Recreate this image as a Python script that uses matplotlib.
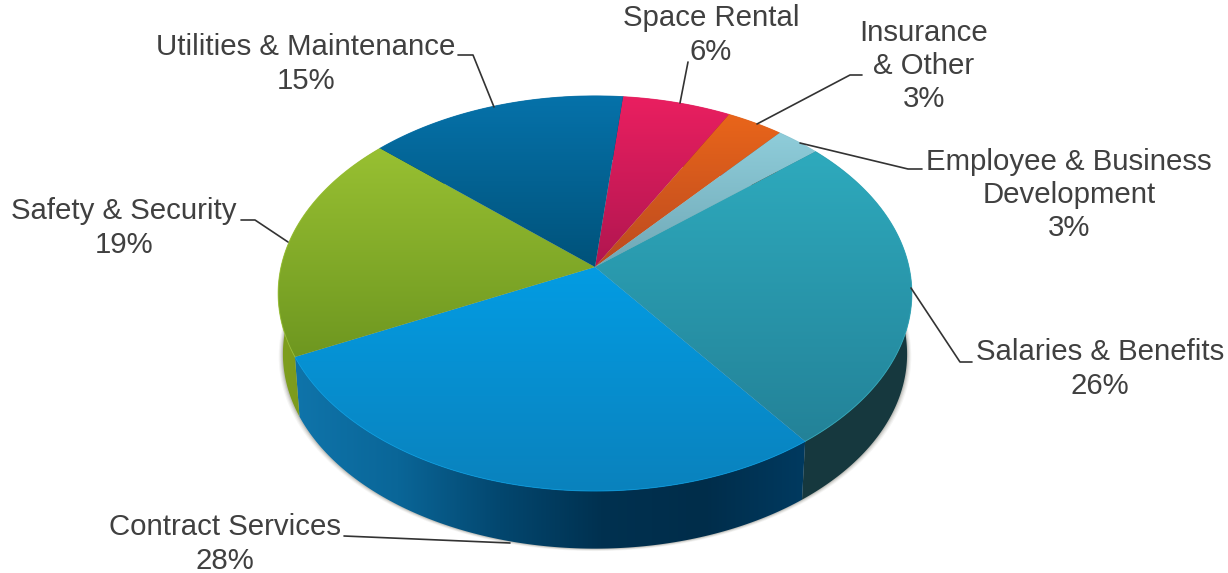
import numpy as np
import matplotlib
matplotlib.use("Agg")
import matplotlib.pyplot as plt
from matplotlib.patches import Polygon
from matplotlib.colors import LinearSegmentedColormap

plt.rcParams['font.family'] = ['Liberation Sans', 'DejaVu Sans']

# clockwise from the top boundary
categories = ["Space Rental", "Insurance\n& Other", "Employee & Business\nDevelopment",
              "Salaries & Benefits", "Contract Services", "Safety & Security",
              "Utilities & Maintenance"]
shares = [6.3, 3.3, 2.6, 26.0, 28.0, 18.8, 15.0]
pct_labels = ["6%", "3%", "3%", "26%", "28%", "19%", "15%"]

top_colors = [("#ea1f60", "#b01650"), ("#e9651a", "#bb4a20"), ("#8fcdda", "#6fa8b6"),
              ("#2eaabd", "#238298"), ("#039ce3", "#0a82bd"), ("#98c032", "#6e9720"),
              ("#0672aa", "#00527a")]
side_colors = [("#8a1040",), ("#8a3a10",), ("#4a7f8a",),
               ("#16393f", "#17383e"),
               ("#0f74aa", "#0a6698", "#03476f", "#003150", "#002d4a", "#003a60"),
               ("#7f9f1e", "#6d8a18"), ("#003f60",)]

label_pos = [(711, 35), (924, 66), (1069, 195), (1100, 369), (225, 544), (124, 228), (306, 64)]
leaders = [[(688, 62), (680, 103)],
           [(862, 75), (850, 75), (757, 124)],
           [(922, 169), (908, 169), (800, 143)],
           [(972, 362), (960, 362), (911, 288)],
           [(344, 536), (510, 543)],
           [(241, 220), (255, 220), (288, 242)],
           [(458, 55), (473, 55), (494, 107)]]

W, H = 1228, 573
CX, CY, A, B, Q = 595.0, 267.0, 314.0, 194.0, 0.134
START = 5.8
DEPTH, SCALE = 61.0, 0.985

fig = plt.figure(figsize=(W / 100, H / 100), dpi=100)
ax = fig.add_axes([0, 0, 1, 1])
ax.set_axis_off()


def rim(t):
    t = np.radians(t)
    u, v = np.sin(t), -np.cos(t)
    w = 1 - Q * v
    return CX + A * u / w, CY + B * v / w


def lower(t):
    x, y = rim(t)
    return CX + (x - CX) * SCALE, CY + (y - CY) * SCALE + DEPTH


def grad(poly, colors, vertical=True, zorder=2):
    colors = list(colors) if len(colors) > 1 else [colors[0], colors[0]]
    cmap = LinearSegmentedColormap.from_list("g", colors)
    xs, ys = poly[:, 0], poly[:, 1]
    g = np.linspace(0, 1, 256)
    img = g[:, None] if vertical else g[None, :]
    im = ax.imshow(img, cmap=cmap, vmin=0, vmax=1,
                   extent=(xs.min(), xs.max(), ys.max(), ys.min()),
                   aspect="auto", origin="upper", zorder=zorder, interpolation="bilinear")
    im.set_clip_path(Polygon(poly, closed=True, transform=ax.transData))


edges = START + np.cumsum([0] + shares) * 3.6

# soft shadow
ts = np.linspace(0, 360, 361)
lx, ly = lower(ts)
for off, al in [(4, .05), (3, .07), (2, .10), (1, .14)]:
    ax.add_patch(Polygon(np.c_[CX + (lx - CX) * (1 + off / 300), ly + off * .6], closed=True,
                         fc="#404030", ec="none", alpha=al, zorder=1))

# side walls
for i in range(len(shares)):
    t = np.linspace(edges[i], edges[i + 1], 120)
    ux, uy = rim(t)
    bx, by = lower(t)
    poly = np.r_[np.c_[ux, uy], np.c_[bx, by][::-1]]
    grad(poly, side_colors[i], vertical=False, zorder=2)

# top faces
for i in range(len(shares)):
    t = np.linspace(edges[i], edges[i + 1], 120)
    ux, uy = rim(t)
    poly = np.r_[[[CX, CY]], np.c_[ux, uy]]
    grad(poly, top_colors[i], vertical=True, zorder=3)
    ax.plot(ux, uy, color=top_colors[i][0], lw=0.7, alpha=.8, zorder=4)

# labels and leader lines
for name, pct, (x, y), pts in zip(categories, pct_labels, label_pos, leaders):
    ax.text(x, y, f"{name}\n{pct}", ha="center", va="center", fontsize=21.2,
            color="#404040", linespacing=1.24, zorder=6)
    p = np.array(pts)
    ax.plot(p[:, 0], p[:, 1], color="#333333", lw=1.2, zorder=5, solid_capstyle="round")

ax.set_xlim(0, W)
ax.set_ylim(H, 0)
fig.savefig("out.png", dpi=100, facecolor="white")
